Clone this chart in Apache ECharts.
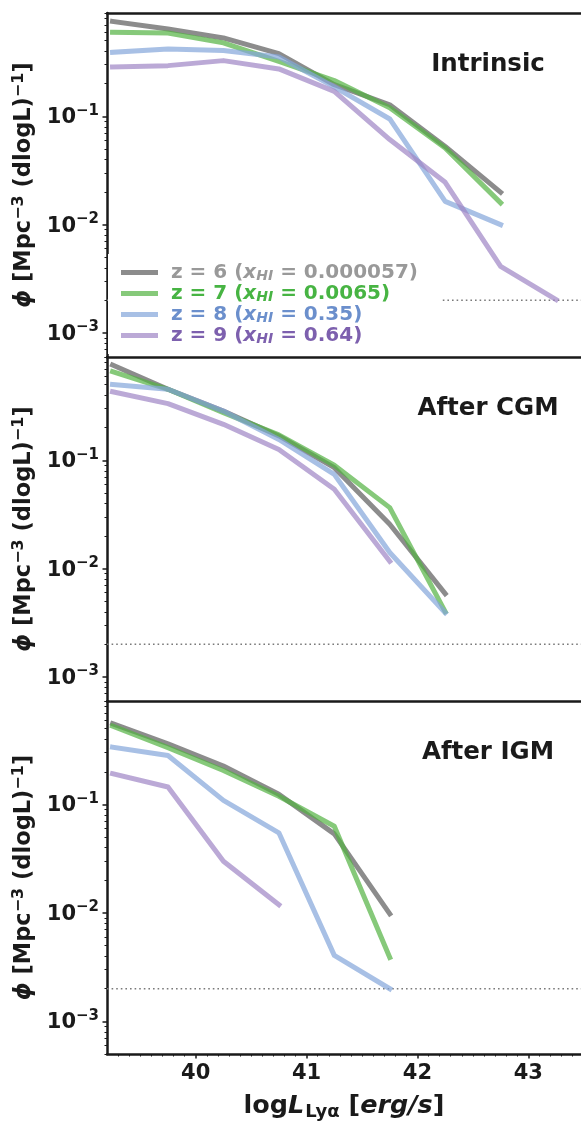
<!DOCTYPE html>
<html><head><meta charset="utf-8">
<script src="https://cdn.jsdelivr.net/npm/echarts@6/dist/echarts.min.js"></script>
<style>html,body{margin:0;padding:0;background:#fff}#c{width:581px;height:1122px}</style>
</head><body><div id="c"></div>
<script>
// ---------------- data ----------------
const LOG_L = [39.25, 39.75, 40.25, 40.75, 41.25, 41.75, 42.25, 42.75, 43.25];
const REDSHIFTS = ['6', '7', '8', '9'];
const X_HI = ['0.000057', '0.0065', '0.35', '0.64'];
const PANEL_TITLES = ['Intrinsic', 'After CGM', 'After IGM'];

const INTRINSIC_Z6 = [0.753, 0.641, 0.53, 0.38, 0.196, 0.128, 0.0528, 0.0199];
const INTRINSIC_Z7 = [0.597, 0.589, 0.477, 0.322, 0.214, 0.120, 0.051, 0.0159];
const INTRINSIC_Z8 = [0.39, 0.419, 0.406, 0.353, 0.187, 0.0946, 0.0164, 0.0100];
const INTRINSIC_Z9 = [0.286, 0.294, 0.327, 0.274, 0.170, 0.061, 0.0246, 0.00412, 0.00203];

const CGM_Z6 = [0.759, 0.453, 0.285, 0.168, 0.0856, 0.0257, 0.00588];
const CGM_Z7 = [0.659, 0.453, 0.275, 0.172, 0.090, 0.0366, 0.00401];
const CGM_Z8 = [0.503, 0.453, 0.285, 0.156, 0.0743, 0.0141, 0.00393];
const CGM_Z9 = [0.43, 0.334, 0.215, 0.126, 0.054, 0.0117];

const IGM_Z6 = [0.556, 0.363, 0.226, 0.124, 0.0536, 0.0098];
const IGM_Z7 = [0.528, 0.334, 0.206, 0.119, 0.063, 0.00389];
const IGM_Z8 = [0.338, 0.283, 0.109, 0.0548, 0.00406, 0.0020];
const IGM_Z9 = [0.192, 0.145, 0.030, 0.0119];

const LIMIT_PHI = 0.002;

const X_MIN = 39.2, X_MAX = 43.475;
const Y_MAX = 0.9;
const Y_MINS = [6e-4, 6e-4, 5e-4];
const X_MAJOR_TICKS = [40, 41, 42, 43];
const X_MINOR_TICKS = [39.3, 39.4, 39.5, 39.6, 39.7, 39.8, 39.9,
  40.1, 40.2, 40.3, 40.4, 40.5, 40.6, 40.7, 40.8, 40.9,
  41.1, 41.2, 41.3, 41.4, 41.5, 41.6, 41.7, 41.8, 41.9,
  42.1, 42.2, 42.3, 42.4, 42.5, 42.6, 42.7, 42.8, 42.9,
  43.1, 43.2, 43.3, 43.4];
const Y_MAJOR_TICKS = [1e-3, 1e-2, 1e-1];
const Y_MINOR_TICKS = [5e-4, 6e-4, 7e-4, 8e-4, 9e-4,
  2e-3, 3e-3, 4e-3, 5e-3, 6e-3, 7e-3, 8e-3, 9e-3,
  2e-2, 3e-2, 4e-2, 5e-2, 6e-2, 7e-2, 8e-2, 9e-2,
  2e-1, 3e-1, 4e-1, 5e-1, 6e-1, 7e-1, 8e-1, 9e-1];

const PANELS = [
  [INTRINSIC_Z6, INTRINSIC_Z7, INTRINSIC_Z8, INTRINSIC_Z9],
  [CGM_Z6, CGM_Z7, CGM_Z8, CGM_Z9],
  [IGM_Z6, IGM_Z7, IGM_Z8, IGM_Z9]
];

// ---------------- styles ----------------
const LINE_COLORS = ['rgba(91,91,91,0.7)', 'rgba(82,178,66,0.7)', 'rgba(131,165,218,0.7)', 'rgba(158,132,196,0.7)'];
const TEXT_COLORS = ['#999999', '#47b443', '#6b8fcc', '#7d60ae'];
const INK = '#1a1a1a';
const FONT = 'DejaVu Sans';
const GRID_LEFT = 107;
const GRID_TOPS = [13, 357, 701];
const GRID_HEIGHTS = [344, 344, 353.5];

const names = REDSHIFTS.map(z => 'z = ' + z);

const grids = GRID_TOPS.map((t, i) => ({ left: GRID_LEFT, right: 0, top: t, height: GRID_HEIGHTS[i], containLabel: false }));

const xAxes = [], yAxes = [], series = [];
const yTitle = '{phi|ϕ}{b| [Mpc}{sup|−3}{b| (dlogL)}{sup|−1}{b|]}';

GRID_TOPS.forEach((t, i) => {
  const last = i === 2;
  const xi = xAxes.length;
  xAxes.push({
    gridIndex: i, type: 'value', min: X_MIN, max: X_MAX, position: 'bottom',
    axisLine: { show: true, onZero: false, lineStyle: { color: INK, width: 2.5 } },
    axisTick: last ? { show: true, customValues: X_MAJOR_TICKS, length: 4.5, lineStyle: { color: INK, width: 1.5 } } : { show: false },
    axisLabel: last ? { show: true, customValues: X_MAJOR_TICKS, margin: 9, color: INK, fontFamily: FONT, fontWeight: 'bold', fontSize: 21 } : { show: false },
    splitLine: { show: false },
    name: last ? '{n|log}{i|L}{sub|Lyα}{n| [}{i|erg/s}{n|]}' : '',
    nameLocation: 'middle', nameGap: 37,
    nameTextStyle: {
      color: INK, fontFamily: FONT, fontWeight: 'bold', fontSize: 25.5,
      rich: {
        n: { fontFamily: FONT, fontWeight: 'bold', fontSize: 25.5, color: INK, lineHeight: 30 },
        i: { fontFamily: FONT, fontWeight: 'bold', fontStyle: 'italic', fontSize: 25.5, color: INK, lineHeight: 30 },
        sub: { fontFamily: FONT, fontWeight: 'bold', fontSize: 18, color: INK, verticalAlign: 'bottom', lineHeight: 18, padding: [0, 0, 0, 1] }
      }
    }
  });
  if (last) {
    xAxes.push({
      gridIndex: i, type: 'value', min: X_MIN, max: X_MAX, position: 'bottom',
      axisLine: { show: false, onZero: false },
      axisTick: { show: true, customValues: X_MINOR_TICKS, length: 2.5, lineStyle: { color: INK, width: 1 } },
      axisLabel: { show: false }, splitLine: { show: false }
    });
  }
  if (i === 0) {
    xAxes.push({
      gridIndex: 0, type: 'value', min: X_MIN, max: X_MAX, position: 'top',
      axisLine: { show: true, onZero: false, lineStyle: { color: INK, width: 2.5 } },
      axisTick: { show: false }, axisLabel: { show: false }, splitLine: { show: false }
    });
  }
  const yi = yAxes.length;
  yAxes.push({
    gridIndex: i, type: 'log', logBase: 10, min: Y_MINS[i], max: Y_MAX, position: 'left',
    axisLine: { show: true, onZero: false, lineStyle: { color: INK, width: 2.5 } },
    axisTick: { show: true, customValues: Y_MAJOR_TICKS, length: 4.5, lineStyle: { color: INK, width: 1.5 } },
    axisLabel: {
      show: true, customValues: Y_MAJOR_TICKS, margin: 8,
      formatter: v => '{b|10}{sup|−' + (-Math.round(Math.log10(v))) + '}',
      rich: {
        b: { fontFamily: FONT, fontWeight: 'bold', fontSize: 21, color: INK, lineHeight: 26, padding: [3, 0, 0, 0] },
        sup: { fontFamily: FONT, fontWeight: 'bold', fontSize: 15, color: INK, verticalAlign: 'top', lineHeight: 15 }
      }
    },
    splitLine: { show: false },
    name: yTitle, nameLocation: 'middle', nameGap: 64, nameRotate: 90,
    nameTextStyle: {
      rich: {
        phi: { fontFamily: FONT, fontWeight: 'bold', fontStyle: 'italic', fontSize: 22.5, color: INK, lineHeight: 27 },
        b: { fontFamily: FONT, fontWeight: 'bold', fontSize: 22.5, color: INK, lineHeight: 27 },
        sup: { fontFamily: FONT, fontWeight: 'bold', fontSize: 16, color: INK, verticalAlign: 'top', lineHeight: 16 }
      }
    }
  });
  yAxes.push({
    gridIndex: i, type: 'log', logBase: 10, min: Y_MINS[i], max: Y_MAX, position: 'left',
    axisLine: { show: false, onZero: false },
    axisTick: { show: true, customValues: Y_MINOR_TICKS, length: 2.5, lineStyle: { color: INK, width: 1 } },
    axisLabel: { show: false }, splitLine: { show: false }
  });

  // detection-limit reference line (dotted)
  series.push({
    type: 'line', name: 'limit', xAxisIndex: xi, yAxisIndex: yi,
    data: [[X_MIN, LIMIT_PHI], [X_MAX, LIMIT_PHI]],
    symbol: 'none', silent: true, animation: false,
    lineStyle: { color: '#7a7a7a', width: 1.5, type: [1.6, 3] },
    z: 1
  });

  PANELS[i].forEach((vals, k) => {
    series.push({
      type: 'line', name: names[k], xAxisIndex: xi, yAxisIndex: yi,
      data: vals.map((v, j) => [LOG_L[j], v]),
      symbol: 'none', silent: true, animation: false,
      lineStyle: { color: LINE_COLORS[k], width: 5, cap: 'square', join: 'round' },
      itemStyle: { color: LINE_COLORS[k] },
      z: 2 + k * 0.01
    });
  });
});

const legendRich = {};
TEXT_COLORS.forEach((c, i) => {
  legendRich['f' + i] = { color: c, fontFamily: FONT, fontWeight: 'bold', fontSize: 20, lineHeight: 21, padding: [0, 0, 0, 8] };
  legendRich['t' + i] = { color: c, fontFamily: FONT, fontWeight: 'bold', fontSize: 20, lineHeight: 21 };
  legendRich['x' + i] = { color: c, fontFamily: FONT, fontWeight: 'bold', fontStyle: 'italic', fontSize: 20, lineHeight: 21 };
  legendRich['s' + i] = { color: c, fontFamily: FONT, fontWeight: 'bold', fontStyle: 'italic', fontSize: 14, lineHeight: 14, verticalAlign: 'bottom' };
});

const option = {
  animation: false,
  backgroundColor: '#ffffff',
  grid: grids,
  xAxis: xAxes,
  yAxis: yAxes,
  legend: {
    orient: 'vertical', left: 108, top: 254, padding: [8, 22, 8, 13],
    backgroundColor: '#ffffff', itemWidth: 37, itemHeight: 5, itemGap: 0,
    icon: 'rect', selectedMode: false, z: 10,
    data: names.map((n, i) => ({ name: n, itemStyle: { color: LINE_COLORS[i] } })),
    formatter: function (name) {
      const i = names.indexOf(name);
      return '{f' + i + '|z = ' + REDSHIFTS[i] + ' (}{x' + i + '|x}{s' + i + '|HI}{t' + i + '| = ' + X_HI[i] + ')}';
    },
    textStyle: { fontFamily: FONT, fontWeight: 'bold', fontSize: 20, lineHeight: 21, rich: legendRich }
  },
  graphic: PANEL_TITLES.map((t, i) => ({
    type: 'text', x: 488, y: GRID_TOPS[i] + 51.5, z: 100,
    style: { text: t, fill: INK, fontFamily: FONT, fontWeight: 'bold', fontSize: 24.5, align: 'center', verticalAlign: 'middle' }
  })),
  series: series
};

const chart = echarts.init(document.getElementById('c'), null, { renderer: 'canvas' });
chart.setOption(option);
</script>
</body></html>
